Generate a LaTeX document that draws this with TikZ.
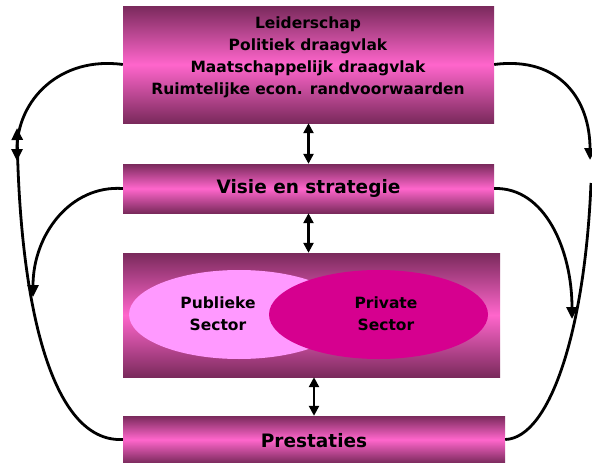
\documentclass[tikz,border=0pt]{standalone}
\usepackage{fontspec}
\setmainfont{DejaVu Sans}
\usetikzlibrary{arrows.meta}
\definecolor{boxdark}{HTML}{7A2A5C}
\definecolor{boxpink}{HTML}{FF66CC}
\definecolor{publiek}{HTML}{FF99FF}
\definecolor{privaat}{HTML}{D6008F}
\tikzset{
  pbox/.style={rectangle, inner sep=0pt, top color=boxdark, bottom color=boxdark, middle color=boxpink},
  lbl/.style={font=\bfseries, align=center, inner sep=0pt},
  conn/.style={line width=2.8pt, -{Triangle[length=12pt,width=11pt]}},
  dconn/.style={line width=2.4pt, {Triangle[length=10pt,width=10pt]}-{Triangle[length=10pt,width=10pt]}}
}
\begin{document}
\begin{tikzpicture}[x=1pt,y=-1pt]
\useasboundingbox (0,0) rectangle (592,463);
\begin{scope}
\clip (0,0) rectangle (592,463);
% boxes
\node[pbox, minimum width=371pt, minimum height=117pt] (b1) at (308.5,64.5) {};
\node[pbox, minimum width=371pt, minimum height=49pt] (b2) at (308.5,188.5) {};
\node[pbox, minimum width=377pt, minimum height=124pt] (b3) at (311.5,315) {};
\node[pbox, minimum width=382pt, minimum height=47pt] (b4) at (314,439.5) {};
% ellipses
\fill[publiek] (239,314.5) ellipse [x radius=110, y radius=44.5];
\fill[privaat] (378.5,314.5) ellipse [x radius=109.5, y radius=44.5];
% texts
\node[lbl, font=\fontsize{15.5}{22}\selectfont\bfseries] (t1) at (308,57) {Leiderschap\\Politiek draagvlak\\Maatschappelijk draagvlak\\Ruimtelijke econ. randvoorwaarden};
\node[lbl, font=\fontsize{18.5}{22}\selectfont\bfseries] (t2) at (308.5,188) {Visie en strategie};
\node[lbl, font=\fontsize{15.5}{22}\selectfont\bfseries] (t3) at (218,314) {Publieke\\Sector};
\node[lbl, font=\fontsize{15.5}{22}\selectfont\bfseries] (t4) at (386,314) {Private\\Sector};
\node[lbl, font=\fontsize{18.5}{22}\selectfont\bfseries] (t5) at (314,441) {Prestaties};
% free ends
\coordinate (l1) at (17,161);
\coordinate (l2) at (17,128);
\coordinate (l3) at (33,297);
\coordinate (r1) at (590,160);
\coordinate (r2) at (572,319);
\coordinate (r3) at (591,183);
% vertical double arrows
\draw[dconn] (b1.south) -- (b2.north);
\draw[dconn] (b2.south) -- (b3.north -| b2.south);
\draw[dconn] (b3.south -| b4.north) -- (b4.north);
% side curves
\draw[conn] (b1.west) .. controls (60,56) and (17,100) .. (l1);
\draw[conn] (b4.west) .. controls (50,443) and (20,300) .. (l2);
\draw[conn] (b2.west) .. controls (70,185) and (33,235) .. (l3);
\draw[conn] (b1.east) .. controls (560,56) and (590,100) .. (r1);
\draw[conn] (b2.east) .. controls (545,187) and (572,250) .. (r2);
\draw[line width=2.8pt] (b4.east) .. controls (550,438) and (585,330) .. (r3);
\end{scope}
\end{tikzpicture}
\end{document}
